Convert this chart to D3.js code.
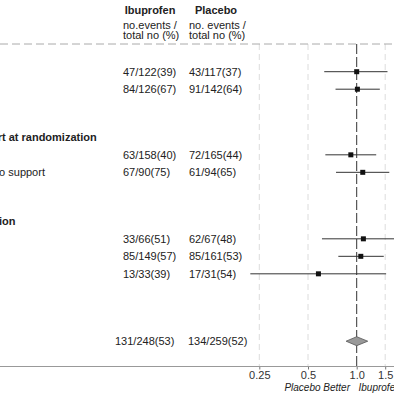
<!DOCTYPE html>
<html>
<head>
<meta charset="utf-8">
<script src="https://cdn.jsdelivr.net/npm/d3@7"></script>
<style>
  body { margin: 0; background: #fff; }
  text { font-family: "Liberation Sans", Arial, sans-serif; fill: #222; }
</style>
</head>
<body>
<svg id="canvas" width="394" height="394"></svg>
<script>
// rows of the table (the left part of the figure is cut off in the picture)
var rowLabels = ['Gestational age', '< 26 weeks', '\u2265 26 weeks',
  'Respiratory support at randomization', 'Invasive support', 'Non-invasive or no support',
  'Gestation at inclusion', '< 7 days', '7-13 days', '\u2265 14 days',
  'Overall'];
var rowType = ['group', 'sub', 'sub', 'group', 'sub', 'sub', 'group', 'sub', 'sub', 'sub', 'total'];
var rowPos = [0, 1, 2, 4.75, 5.75, 6.75, 9.55, 10.55, 11.55, 12.55, 16.4];
var ibuText = ['', '47/122(39)', '84/126(67)', '', '63/158(40)', '67/90(75)', '', '33/66(51)', '85/149(57)', '13/33(39)', '131/248(53)'];
var plaText = ['', '43/117(37)', '91/142(64)', '', '72/165(44)', '61/94(65)', '', '62/67(48)', '85/161(53)', '17/31(54)', '134/259(52)'];
var estimate = [null, 1.0, 1.01, null, 0.92, 1.09, null, 1.10, 1.06, 0.58, 1.0];
var lower = [null, 0.63, 0.74, null, 0.64, 0.745, null, 0.61, 0.77, 0.22, 0.86];
var upper = [null, 1.55, 1.39, null, 1.32, 1.59, null, 1.8, 1.47, 1.52, 1.17];
var tickValues = [0.25, 0.5, 1.0, 1.5];
var tickLabels = ['0.25', '0.5', '1.0', '1.5'];

var rows = rowLabels.map(function(d, i) {
  return {label: d, type: rowType[i], pos: rowPos[i], ibu: ibuText[i], pla: plaText[i],
    est: estimate[i], lo: lower[i], hi: upper[i]};
});

var width = 394;
var height = 394;
var topLine = 44;
var axisY = 366.5;

var svg = d3.select('#canvas');

var x = d3.scaleLog().base(2).domain([0.25, 1]).range([259.3, 356.7]);
var y = d3.scaleLinear().domain([0, 1]).range([54.2, 71.7]);

// column headers
var cols = [{x: 123, title: 'Ibuprofen', sub: ['no.events /', 'total no (%)']},
  {x: 189, title: 'Placebo', sub: ['no. events /', 'total no (%)']}];
cols.forEach(function(c) {
  svg.append('text').attr('x', c.x + 27).attr('y', 14)
    .attr('text-anchor', 'middle').style('font-size', '11px').style('font-weight', 'bold')
    .text(c.title);
  c.sub.forEach(function(s, i) {
    svg.append('text').attr('x', c.x).attr('y', 28.5 + i * 10.5)
      .style('font-size', '11px').text(s);
  });
});

// grid lines
svg.selectAll('.grid')
  .data(tickValues.filter(function(d) { return d !== 1; }))
  .enter().append('line')
  .attr('class', 'grid')
  .attr('x1', function(d) { return x(d); }).attr('x2', function(d) { return x(d); })
  .attr('y1', topLine).attr('y2', axisY)
  .style('stroke', '#dcdcdc').style('stroke-dasharray', '6,4');

// header separator
svg.append('line').attr('x1', 0).attr('x2', width).attr('y1', topLine).attr('y2', topLine)
  .style('stroke', '#aaa').style('stroke-dasharray', '8,4');

// reference line at 1
svg.append('line').attr('x1', x(1)).attr('x2', x(1)).attr('y1', topLine).attr('y2', axisY)
  .style('stroke', '#333').style('stroke-dasharray', '10,3');

// row labels
svg.selectAll('.label')
  .data(rows)
  .enter().append('text')
  .attr('class', 'label')
  .attr('x', function(d) { return d.type === 'sub' ? -86.5 : -99.5; })
  .attr('y', function(d) { return y(d.pos); })
  .attr('dy', '0.35em')
  .style('font-size', '11px')
  .style('font-weight', function(d) { return d.type === 'sub' ? 'normal' : 'bold'; })
  .text(function(d) { return d.label; });

// counts
var counts = rows.filter(function(d) { return d.ibu; });
svg.selectAll('.ibu')
  .data(counts)
  .enter().append('text')
  .attr('class', 'ibu')
  .attr('x', function(d) { return d.type === 'total' ? 115 : 123; })
  .attr('y', function(d) { return y(d.pos); })
  .attr('dy', '0.35em')
  .style('font-size', '11px')
  .text(function(d) { return d.ibu; });
svg.selectAll('.pla')
  .data(counts)
  .enter().append('text')
  .attr('class', 'pla')
  .attr('x', function(d) { return d.type === 'total' ? 188 : 189; })
  .attr('y', function(d) { return y(d.pos); })
  .attr('dy', '0.35em')
  .style('font-size', '11px')
  .text(function(d) { return d.pla; });

// confidence intervals and point estimates
var subs = rows.filter(function(d) { return d.type === 'sub' && d.est != null; });
svg.selectAll('.ci')
  .data(subs)
  .enter().append('line')
  .attr('class', 'ci')
  .attr('x1', function(d) { return x(d.lo); })
  .attr('x2', function(d) { return x(d.hi); })
  .attr('y1', function(d) { return y(d.pos); })
  .attr('y2', function(d) { return y(d.pos); })
  .style('stroke', '#333').style('stroke-width', 1);
svg.selectAll('.pt')
  .data(subs)
  .enter().append('rect')
  .attr('class', 'pt')
  .attr('x', function(d) { return x(d.est) - 2.5; })
  .attr('y', function(d) { return y(d.pos) - 2.5; })
  .attr('width', 5).attr('height', 5)
  .style('fill', '#111');

// overall diamond
var tot = rows.filter(function(d) { return d.type === 'total'; });
svg.selectAll('.diamond')
  .data(tot)
  .enter().append('path')
  .attr('class', 'diamond')
  .attr('d', function(d) {
    var cy = y(d.pos);
    return 'M' + x(d.lo) + ',' + cy + 'L' + x(d.est) + ',' + (cy - 4.5) +
      'L' + x(d.hi) + ',' + cy + 'L' + x(d.est) + ',' + (cy + 4.5) + 'Z';
  })
  .style('fill', '#999').style('stroke', '#555').style('stroke-width', 0.8);

// axis
var axis = svg.append('g')
  .attr('transform', 'translate(0,' + axisY + ')')
  .call(d3.axisBottom(x).tickValues(tickValues)
    .tickFormat(function(d, i) { return tickLabels[i]; })
    .tickSize(3).tickPadding(2));
axis.select('.domain').remove();
axis.selectAll('line').style('stroke', '#777');
axis.selectAll('text').style('font-size', '11px')
  .style('font-family', '"Liberation Sans", Arial, sans-serif').style('fill', '#333');
svg.append('line').attr('x1', 0).attr('x2', width).attr('y1', axisY).attr('y2', axisY)
  .style('stroke', '#999');

svg.append('text').attr('x', 350).attr('y', 390.5)
  .attr('text-anchor', 'end').style('font-size', '10px').style('font-style', 'italic')
  .text('Placebo Better');
svg.append('text').attr('x', 358.5).attr('y', 390.5)
  .style('font-size', '10px').style('font-style', 'italic')
  .text('Ibuprofen Better');
</script>
</body>
</html>
